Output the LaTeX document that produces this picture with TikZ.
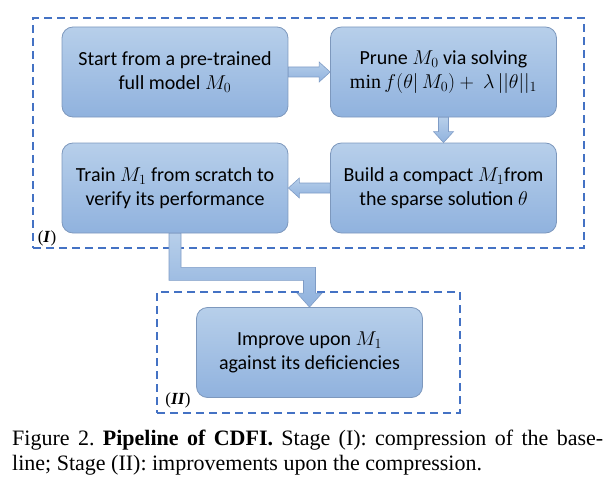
\RequirePackage{fix-cm}
\documentclass[tikz,border=0pt]{standalone}
\usepackage{fontspec}
\setmainfont{Liberation Serif}
\newfontfamily\boxfont{Carlito}
\usetikzlibrary{calc}
\definecolor{boxtop}{HTML}{B7CFEA}
\definecolor{boxbot}{HTML}{90B2DE}
\definecolor{boxborder}{HTML}{7D98BD}
\definecolor{frameblue}{HTML}{4472C4}
\definecolor{arrowborder}{HTML}{7F9CC6}
\tikzset{
  box/.style={draw=boxborder, line width=0.8pt, rounded corners=11pt,
    top color=boxtop, bottom color=boxbot, minimum width=226pt,
    minimum height=90pt, align=center, inner sep=0pt,
    font=\boxfont\fontsize{20}{24}\selectfont},
  stageframe/.style={draw=frameblue, line width=1.8pt, dash pattern=on 8pt off 5pt,
    inner sep=0pt},
  blockarrow/.style={draw=arrowborder, line width=0.6pt, top color=boxtop,
    bottom color=boxbot},
  stagelabel/.style={font=\fontsize{17}{20}\selectfont, inner sep=0pt},
}
\frenchspacing
\begin{document}
\begin{tikzpicture}[x=1pt, y=-1pt]
\useasboundingbox (0,0) rectangle (613,487);
% frames
\node[stageframe, minimum width=551pt, minimum height=230pt] (f1) at (308.5,133) {};
\node[stageframe, minimum width=303pt, minimum height=121pt] (f2) at (308.5,352.5) {};
% boxes
\node[box] (b1) at (175,72) {Start from a pre-trained\\full model $M_0$};
\node[box] (b2) at (443.5,72) {Prune $M_0$ via solving\\$\min f(\theta|\,M_0) +\ \lambda\,||\theta||_1$};
\node[box] (b3) at (443.5,188) {Build a compact $M_1$from\\the sparse solution $\theta$};
\node[box] (b4) at (175,188) {Train $M_1$ from scratch to\\verify its performance};
\node[box] (b5) at (309.5,352.5) {Improve upon $M_1$\\against its deficiencies};
% labels
\node[stagelabel] (l1) at (47,238) {(\textbf{\textit{I}})};
\node[stagelabel] (l2) at (178,400) {(\textbf{\textit{II}})};
% arrow b1 -> b2
\draw[blockarrow] ($(b1.east)+(0,-5)$) -- ($(b2.west)+(-11,-5)$) -- ($(b2.west)+(-11,-10)$)
  -- (b2.west) -- ($(b2.west)+(-11,10)$) -- ($(b2.west)+(-11,5)$) -- ($(b1.east)+(0,5)$) -- cycle;
% arrow b2 -> b3
\draw[blockarrow] ($(b2.south)+(-5,0)$) -- ($(b3.north)+(-5,-11)$) -- ($(b3.north)+(-10,-11)$)
  -- (b3.north) -- ($(b3.north)+(10,-11)$) -- ($(b3.north)+(5,-11)$) -- ($(b2.south)+(5,0)$) -- cycle;
% arrow b3 -> b4
\draw[blockarrow] ($(b3.west)+(0,-5)$) -- ($(b4.east)+(11,-5)$) -- ($(b4.east)+(11,-10)$)
  -- (b4.east) -- ($(b4.east)+(11,10)$) -- ($(b4.east)+(11,5)$) -- ($(b3.west)+(0,5)$) -- cycle;
% elbow arrow b4 -> b5
\coordinate (e1) at ($(b4.south)+(0,40.5)$);
\coordinate (e2) at (e1 -| b5.north);
\draw[blockarrow] ($(b4.south)+(-6,0)$) -- ($(b4.south)+(6,0)$) -- ($(e1)+(6,-6.5)$)
  -- ($(e2)+(6,-6.5)$) -- ($(b5.north)+(6,-14)$) -- ($(b5.north)+(12.5,-14)$)
  -- (b5.north) -- ($(b5.north)+(-12.5,-14)$) -- ($(b5.north)+(-6,-14)$)
  -- ($(e2)+(-6,6.5)$) -- ($(e1)+(-6,6.5)$) -- cycle;
% caption
\node[anchor=north west, text width=591pt, align=justify, inner sep=0pt,
  font=\fontsize{22}{25}\selectfont] (cap) at (12,429.5)
  {Figure 2. \textbf{Pipeline of CDFI.} Stage (I): compression of the base-\linebreak line; Stage (II): improvements upon the compression.};
\end{tikzpicture}
\end{document}
